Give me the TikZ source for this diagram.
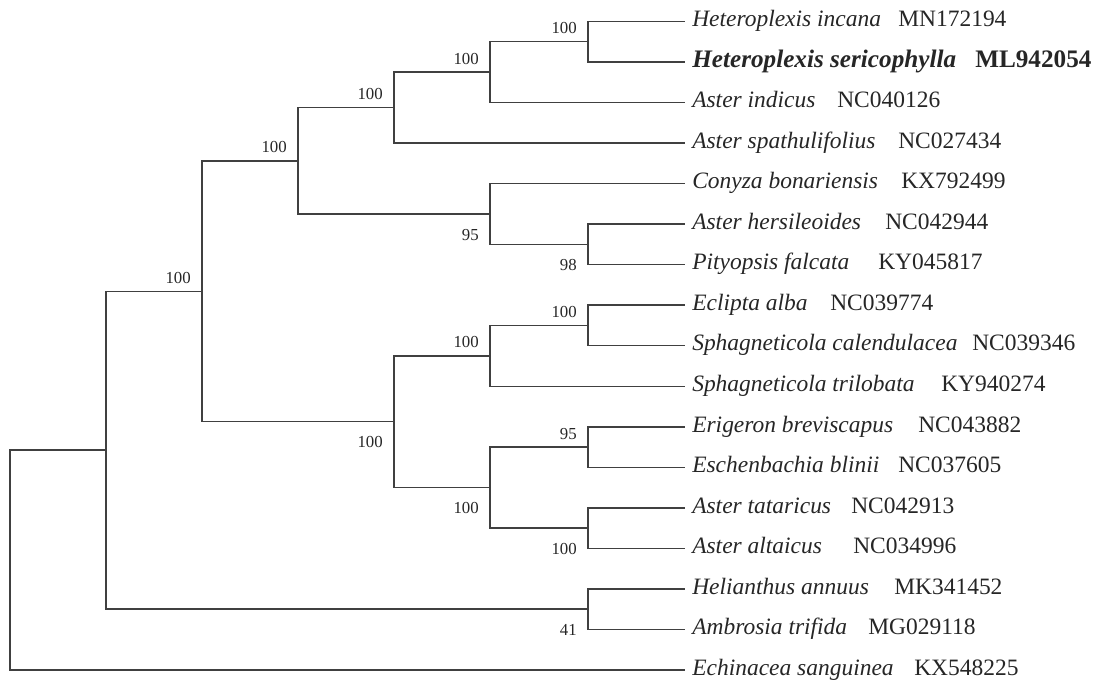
\documentclass[tikz,border=0pt]{standalone}
\usepackage{fontspec}
\setmainfont{Liberation Serif}
\begin{document}
\begin{tikzpicture}[x=0.75pt,y=-0.75pt,
  br/.style={draw=black!75, line width=1.1pt, line cap=rect},
  leaf/.style={anchor=west, inner xsep=6pt, inner ysep=0pt, text height=12pt, text depth=4.2pt,
    text=black!85, font=\fontsize{17.6}{20}\selectfont\itshape},
  leafbold/.style={leaf, font=\fontsize{18.9}{22}\selectfont\bfseries\itshape},
  acc/.style={anchor=west, inner sep=0pt, text height=12pt, text depth=4.2pt,
    text=black!85, font=\fontsize{17.6}{20}\selectfont},
  accbold/.style={acc, font=\fontsize{18.9}{22}\selectfont\bfseries},
  sup/.style={anchor=base east, inner sep=0pt, text=black!85, font=\fontsize{12.6}{14}\selectfont, xshift=-8.25pt},
  supa/.style={sup, yshift=6pt},
  supb/.style={sup, yshift=-19.5pt}]
\useasboundingbox (0,0) rectangle (1096,681);
% leaves
\node[leaf] (l0) at (684,21.5) {Heteroplexis incana};
\node[leafbold] (l1) at (684,62.0) {Heteroplexis sericophylla};
\node[leaf] (l2) at (684,102.6) {Aster indicus};
\node[leaf] (l3) at (684,143.1) {Aster spathulifolius};
\node[leaf] (l4) at (684,183.6) {Conyza bonariensis};
\node[leaf] (l5) at (684,224.2) {Aster hersileoides};
\node[leaf] (l6) at (684,264.7) {Pityopsis falcata};
\node[leaf] (l7) at (684,305.2) {Eclipta alba};
\node[leaf] (l8) at (684,345.7) {Sphagneticola calendulacea};
\node[leaf] (l9) at (684,386.3) {Sphagneticola trilobata};
\node[leaf] (l10) at (684,426.8) {Erigeron breviscapus};
\node[leaf] (l11) at (684,467.3) {Eschenbachia blinii};
\node[leaf] (l12) at (684,507.9) {Aster tataricus};
\node[leaf] (l13) at (684,548.4) {Aster altaicus};
\node[leaf] (l14) at (684,588.9) {Helianthus annuus};
\node[leaf] (l15) at (684,629.5) {Ambrosia trifida};
\node[leaf] (l16) at (684,670.0) {Echinacea sanguinea};
% accessions
\node[acc] (a0) at (898,21.5) {MN172194};
\node[accbold] (a1) at (975,62.0) {ML942054};
\node[acc] (a2) at (837,102.6) {NC040126};
\node[acc] (a3) at (898,143.1) {NC027434};
\node[acc] (a4) at (901,183.6) {KX792499};
\node[acc] (a5) at (885,224.2) {NC042944};
\node[acc] (a6) at (878,264.7) {KY045817};
\node[acc] (a7) at (830,305.2) {NC039774};
\node[acc] (a8) at (972,345.7) {NC039346};
\node[acc] (a9) at (941,386.3) {KY940274};
\node[acc] (a10) at (918,426.8) {NC043882};
\node[acc] (a11) at (898,467.3) {NC037605};
\node[acc] (a12) at (851,507.9) {NC042913};
\node[acc] (a13) at (853,548.4) {NC034996};
\node[acc] (a14) at (894,588.9) {MK341452};
\node[acc] (a15) at (868,629.5) {MG029118};
\node[acc] (a16) at (914,670.0) {KX548225};
% internal nodes
\coordinate (F) at (588,41.75);
\coordinate (E) at (490,72.2);
\coordinate (D) at (394,107.6);
\coordinate (H) at (588,244.4);
\coordinate (G) at (490,214.0);
\coordinate (C) at (298,160.8);
\coordinate (K) at (588,325.5);
\coordinate (J) at (490,355.9);
\coordinate (M) at (588,447.1);
\coordinate (N) at (588,528.2);
\coordinate (L) at (490,487.6);
\coordinate (I) at (394,421.7);
\coordinate (B) at (202,291.3);
\coordinate (O) at (588,609.2);
\coordinate (A) at (106,450.2);
\coordinate (R) at (10,560.1);
% branches
\draw[br] (R) |- (A); \draw[br] (R) |- (l16.west);
\draw[br] (A) |- (B); \draw[br] (A) |- (O);
\draw[br] (B) |- (C); \draw[br] (B) |- (I);
\draw[br] (C) |- (D); \draw[br] (C) |- (G);
\draw[br] (D) |- (E); \draw[br] (D) |- (l3.west);
\draw[br] (E) |- (F); \draw[br] (E) |- (l2.west);
\draw[br] (F) |- (l0.west); \draw[br] (F) |- (l1.west);
\draw[br] (G) |- (l4.west); \draw[br] (G) |- (H);
\draw[br] (H) |- (l5.west); \draw[br] (H) |- (l6.west);
\draw[br] (I) |- (J); \draw[br] (I) |- (L);
\draw[br] (J) |- (K); \draw[br] (J) |- (l9.west);
\draw[br] (K) |- (l7.west); \draw[br] (K) |- (l8.west);
\draw[br] (L) |- (M); \draw[br] (L) |- (N);
\draw[br] (M) |- (l10.west); \draw[br] (M) |- (l11.west);
\draw[br] (N) |- (l12.west); \draw[br] (N) |- (l13.west);
\draw[br] (O) |- (l14.west); \draw[br] (O) |- (l15.west);
% support values
\node[supa] (sF) at (F) {100};
\node[supa] (sE) at (E) {100};
\node[supa] (sD) at (D) {100};
\node[supa] (sC) at (C) {100};
\node[supa] (sB) at (B) {100};
\node[supb] (sG) at (G) {95};
\node[supb] (sH) at (H) {98};
\node[supa] (sK) at (K) {100};
\node[supa] (sJ) at (J) {100};
\node[supb] (sI) at (I) {100};
\node[supa] (sM) at (M) {95};
\node[supb] (sL) at (L) {100};
\node[supb] (sN) at (N) {100};
\node[supb] (sO) at (O) {41};
\end{tikzpicture}
\end{document}
